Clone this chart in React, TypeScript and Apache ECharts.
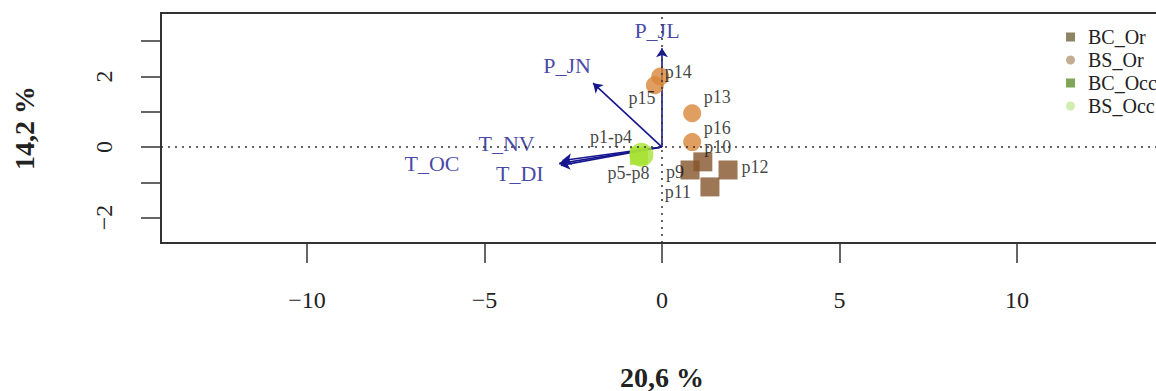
import React, { useEffect, useRef } from "react";
import * as echarts from "echarts";

// Axis ticks
const xTicks = [-10, -5, 0, 5, 10];
const yTicks = [-2, -1, 0, 1, 2, 3];
const yTickLabels = [-2, 0, 2];

// Individuals (points)
const bcOrNames = ["p9", "p10", "p11", "p12"];
const bcOrX = [0.79, 1.15, 1.35, 1.86];
const bcOrY = [-0.65, -0.42, -1.13, -0.65];

const bsOrNames = ["p13", "p14", "p15", "p16"];
const bsOrX = [0.85, -0.05, -0.2, 0.85];
const bsOrY = [0.96, 2.0, 1.75, 0.14];

const bcOccNames = ["p1-p4"];
const bcOccX = [-0.65];
const bcOccY = [-0.25];

const bsOccNames = ["p5-p8"];
const bsOccX = [-0.58];
const bsOccY = [-0.22];

// Variables (arrows)
const varNames = ["P_JL", "P_JN", "T_NV", "T_OC", "T_DI"];
const varX = [0, -1.94, -2.8, -2.9, -2.85];
const varY = [2.8, 1.81, -0.38, -0.47, -0.52];

// label offsets (px) – style only
const pointLabelOffset: Record<string, [number, number]> = {
  p9: [-15, 2],
  p10: [15, -15],
  p11: [-32, 5],
  p12: [27, -3],
  p13: [25, -16],
  p14: [18, -4],
  p15: [-13, 13],
  p16: [25, -14],
  "p1-p4": [-28, -19],
  "p5-p8": [-13, 18],
};
const varLabelOffset: Record<string, [number, number]> = {
  P_JL: [-5, -18],
  P_JN: [-26, -18],
  T_NV: [-56, -17],
  T_OC: [-127, 0],
  T_DI: [-41, 8],
};

const FONT = "Liberation Serif";
const ARROW = "#16168f";

function pts(names: string[], xs: number[], ys: number[]) {
  return names.map((n, i) => ({
    name: n,
    value: [xs[i], ys[i]],
    label: { offset: pointLabelOffset[n] },
  }));
}

const minus = (v: number) => (v < 0 ? "\u2212" + Math.abs(v) : String(v));

export default function App() {
  const ref = useRef<HTMLDivElement>(null);
  useEffect(() => {
    if (!ref.current) return;
    const chart = echarts.init(ref.current, null, { renderer: "svg" });
    const pointLabel = {
      show: true,
      position: "inside",
      formatter: "{b}",
      color: "#111",
      fontFamily: FONT,
      fontSize: 18,
    };
    chart.setOption({
      animation: false,
      backgroundColor: "#fff",
      grid: {
        left: 161,
        top: 13,
        width: 1002,
        height: 230,
        show: true,
        borderColor: "#333",
        borderWidth: 2,
        containLabel: false,
        outerBoundsMode: "none",
      },
      legend: {
        orient: "vertical",
        left: 1061,
        top: 22,
        itemWidth: 9,
        itemHeight: 9,
        itemGap: 3,
        textStyle: {
          fontFamily: FONT,
          fontSize: 20,
          color: "#222",
          lineHeight: 20,
          padding: [0, 0, 0, 8],
        },
        data: [
          { name: "BC_Or", icon: "rect", itemStyle: { color: "#70653f" } },
          { name: "BS_Or", icon: "circle", itemStyle: { color: "#b39b78" } },
          { name: "BC_Occ", icon: "rect", itemStyle: { color: "#5f8f2f" } },
          { name: "BS_Occ", icon: "circle", itemStyle: { color: "#c6e89c" } },
        ],
      },
      xAxis: {
        type: "value",
        min: -14.11,
        max: 14.11,
        splitLine: { show: false },
        axisLine: { show: true, onZero: false, lineStyle: { color: "#333", width: 2 } },
        axisTick: {
          show: true,
          inside: false,
          length: 20,
          customValues: xTicks,
          lineStyle: { color: "#333", width: 1.5 },
        },
        axisLabel: {
          customValues: xTicks,
          margin: 45,
          fontFamily: FONT,
          fontSize: 24,
          color: "#222",
          formatter: minus,
        },
        name: "20,6 %",
        nameLocation: "middle",
        nameGap: 120,
        nameTextStyle: { fontFamily: FONT, fontSize: 28, fontWeight: "bold", color: "#222" },
      },
      yAxis: {
        type: "value",
        min: -2.72,
        max: 3.8,
        splitLine: { show: false },
        axisLine: { show: true, onZero: false, lineStyle: { color: "#333", width: 2 } },
        axisTick: {
          show: true,
          inside: false,
          length: 20,
          customValues: yTicks,
          lineStyle: { color: "#333", width: 1.5 },
        },
        axisLabel: {
          customValues: yTickLabels,
          rotate: 90,
          margin: 45,
          fontFamily: FONT,
          fontSize: 24,
          color: "#222",
          formatter: minus,
        },
        name: "14,2 %",
        nameLocation: "middle",
        nameRotate: 90,
        nameGap: 123,
        nameTextStyle: { fontFamily: FONT, fontSize: 28, fontWeight: "bold", color: "#222" },
      },
      series: [
        {
          type: "lines",
          coordinateSystem: "cartesian2d",
          z: 2,
          symbol: ["none", "arrow"],
          symbolSize: 9,
          lineStyle: { color: ARROW, width: 1.6, opacity: 1 },
          data: varNames.map((n, i) => ({
            name: n,
            coords: [
              [0, 0],
              [varX[i], varY[i]],
            ],
          })),
        },
        {
          type: "scatter",
          name: "vars",
          z: 1,
          symbolSize: 0,
          silent: true,
          data: varNames.map((n, i) => ({
            name: n,
            value: [varX[i], varY[i]],
            label: { offset: varLabelOffset[n] },
          })),
          label: {
            show: true,
            position: "inside",
            formatter: "{b}",
            color: ARROW,
            fontFamily: FONT,
            fontSize: 22,
          },
          markLine: {
            silent: true,
            symbol: "none",
            label: { show: false },
            lineStyle: { type: [2, 5], color: "#333", width: 1.5 },
            data: [{ yAxis: 0 }, { xAxis: 0 }],
          },
        },
        {
          type: "scatter",
          name: "BC_Occ",
          z: 3,
          symbol: "rect",
          symbolSize: 18,
          itemStyle: { color: "#9fdc2c" },
          data: pts(bcOccNames, bcOccX, bcOccY),
          label: pointLabel,
        },
        {
          type: "scatter",
          name: "BS_Occ",
          z: 3,
          symbol: "circle",
          symbolSize: 24,
          itemStyle: { color: "#a6e233" },
          data: pts(bsOccNames, bsOccX, bsOccY),
          label: pointLabel,
        },
        {
          type: "scatter",
          name: "BS_Or",
          z: 3,
          symbol: "circle",
          symbolSize: 18,
          itemStyle: { color: "#d8863a" },
          data: pts(bsOrNames, bsOrX, bsOrY),
          label: pointLabel,
        },
        {
          type: "scatter",
          name: "BC_Or",
          z: 3,
          symbol: "rect",
          symbolSize: 19,
          itemStyle: { color: "#85552a" },
          data: pts(bcOrNames, bcOrX, bcOrY),
          label: pointLabel,
        },
      ],
    });
    return () => chart.dispose();
  }, []);
  return (
    <div
      style={{
        position: "fixed",
        left: 0,
        top: 0,
        width: 1156,
        height: 391,
        overflow: "hidden",
        background: "#fff",
      }}
    >
      <div ref={ref} style={{ width: 1180, height: 391 }} />
    </div>
  );
}
